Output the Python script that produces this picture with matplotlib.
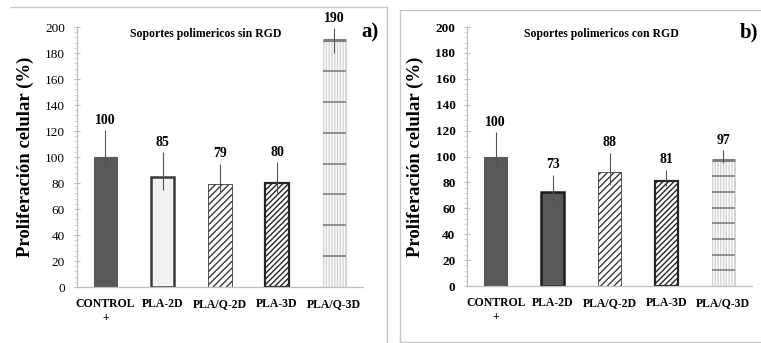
import matplotlib
matplotlib.use("Agg")
import matplotlib.pyplot as plt
from matplotlib.lines import Line2D
from matplotlib.ticker import MultipleLocator
import numpy as np

plt.rcParams['font.family'] = ['Liberation Serif', 'DejaVu Serif']
plt.rcParams['hatch.linewidth'] = 1.0

categories = ["CONTROL\n+", "PLA-2D", "PLA/Q-2D", "PLA-3D", "PLA/Q-3D"]
values_a = [100, 85, 79, 80, 190]
err_lo_a = [9, 10, 7, 8, 10]
err_hi_a = [21, 19, 16, 16, 9]
values_b = [100, 73, 88, 81, 97]
err_lo_b = [9, 9, 10, 4, 2]
err_hi_b = [19, 13, 15, 9, 8]
title_a = "Soportes polimericos sin RGD"
title_b = "Soportes polimericos con RGD"
ylabel = "Proliferación celular (%)"
yticks = list(range(0, 201, 20))

DARK = "#595959"
styles_a = [
    dict(facecolor=DARK, edgecolor=DARK, linewidth=0.8, hatch=None),
    dict(facecolor="#f2f2f2", edgecolor="#3a3a3a", linewidth=1.8, hatch=None),
    dict(facecolor="white", edgecolor="#3a3a3a", linewidth=0.6, hatch="/////"),
    dict(facecolor="white", edgecolor="#262626", linewidth=1.6, hatch="//////"),
    dict(facecolor="white", edgecolor="#d4d4d4", linewidth=0.8, hatch="||||||"),
]
styles_b = [
    dict(facecolor=DARK, edgecolor=DARK, linewidth=0.8, hatch=None),
    dict(facecolor=DARK, edgecolor="#1e1e1e", linewidth=1.8, hatch=None),
    dict(facecolor="white", edgecolor="#3a3a3a", linewidth=0.6, hatch="/////"),
    dict(facecolor="white", edgecolor="#262626", linewidth=1.6, hatch="//////"),
    dict(facecolor="white", edgecolor="#d4d4d4", linewidth=0.8, hatch="||||||"),
]

fig = plt.figure(figsize=(7.61, 3.43), dpi=100)

# panel frames
fig.add_artist(Line2D([0.013, 0.5085], [0.980, 0.980], color="#c8c8c8", lw=1.0))
fig.add_artist(Line2D([0.5085, 0.5085], [0.980, 0.0], color="#c8c8c8", lw=1.0))
fig.add_artist(Line2D([0.5256, 0.5256, 1.0], [0.0035, 0.971, 0.971], color="#c8c8c8", lw=1.0))
fig.add_artist(Line2D([0.5256, 1.0], [0.0035, 0.0035], color="#c8c8c8", lw=1.0))

def draw(ax, vals, lo, hi, styles, title, bold_ticks, title_x):
    x = np.arange(len(vals))
    for i, (v, st) in enumerate(zip(vals, styles)):
        ax.bar(x[i], v, width=0.41, facecolor=st['facecolor'], edgecolor=st['edgecolor'],
               linewidth=st['linewidth'], hatch=st['hatch'], zorder=2)
    # grid-like pattern for last bar
    i = len(vals) - 1
    v = vals[i]
    for k in range(1, 8):
        ax.hlines(v * k / 8, x[i] - 0.205, x[i] + 0.205, color="#7f7f7f", lw=1.2, zorder=3)
    ax.hlines(v, x[i] - 0.205, x[i] + 0.205, color="#7f7f7f", lw=2.2, zorder=3)
    ax.errorbar(x, vals, yerr=[lo, hi], fmt='none', ecolor="#555555", elinewidth=0.8,
                capsize=0, zorder=4)
    for xi, v, h in zip(x, vals, hi):
        ax.text(xi, v + h + 2.5, str(v), ha='center', va='bottom', fontsize=10,
                fontweight='bold', clip_on=False)
    ax.set_xlim(-0.5, len(vals) - 0.5)
    ax.set_ylim(0, 200)
    ax.set_yticks(yticks)
    ax.yaxis.set_minor_locator(MultipleLocator(4))
    ax.set_xticks(x)
    ax.set_xticklabels(categories, fontsize=8.5, fontweight='bold')
    ax.tick_params(axis='x', length=0, pad=8)
    ax.tick_params(axis='y', which='major', length=5, direction='inout', color="#bfbfbf",
                   labelsize=9.5, pad=6)
    ax.tick_params(axis='y', which='minor', length=2, direction='out', color="#d0d0d0")
    if bold_ticks:
        for lab in ax.get_yticklabels():
            lab.set_fontweight('bold')
    for s in ['top', 'right']:
        ax.spines[s].set_visible(False)
    for s in ['left', 'bottom']:
        ax.spines[s].set_color("#bfbfbf")
        ax.spines[s].set_linewidth(0.9)
    ax.set_ylabel(ylabel, fontsize=13.5, fontweight='bold', labelpad=8)
    ax.text(title_x, 0.975, title, transform=ax.transAxes, ha='center', va='center',
            fontsize=8.5, fontweight='bold')

ax_a = fig.add_axes([0.101, 0.163, 0.376, 0.758])
draw(ax_a, values_a, err_lo_a, err_hi_a, styles_a, title_a, False, 0.45)
fig.text(0.486, 0.905, "a)", fontsize=15, fontweight='bold', ha='center', va='center')

ax_b = fig.add_axes([0.614, 0.166, 0.374, 0.755])
draw(ax_b, values_b, err_lo_b, err_hi_b, styles_b, title_b, True, 0.47)
fig.text(0.984, 0.905, "b)", fontsize=15, fontweight='bold', ha='center', va='center')

fig.savefig("out.png", dpi=100)
